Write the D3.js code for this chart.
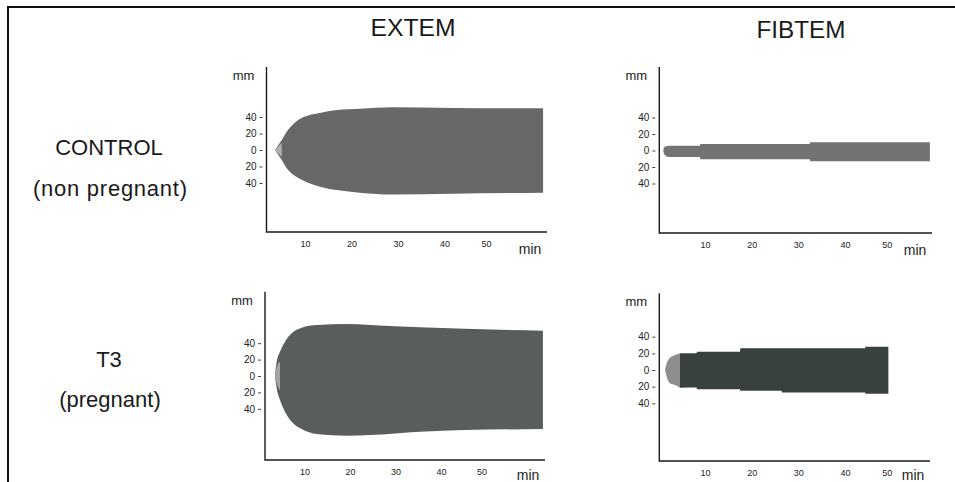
<!DOCTYPE html>
<html>
<head>
<meta charset="utf-8">
<script src="https://cdn.jsdelivr.net/npm/d3@7"></script>
<style>
  html, body { margin: 0; padding: 0; background: #fff; }
  svg { display: block; font-family: "Liberation Sans", Arial, Helvetica, sans-serif; }
</style>
</head>
<body>
<svg id="chart" width="955" height="482"></svg>
<script>
// Headings
const columns = ["EXTEM", "FIBTEM"];
const rowTitles = ["CONTROL", "T3"];
const rowSubtitles = ["(non pregnant)", "(pregnant)"];
const timeTicks = [10, 20, 30, 40, 50];          // min
const amplitudeTicks = [40, 20, 0, -20, -40];    // mm

// EXTEM, control (non pregnant): time in min, upper / lower amplitude in mm
const extemControlTime  = [3.55, 4.27, 5.0, 6.06, 7.5, 9.6, 13.2, 16.8, 21.8, 28.9, 41.8, 61.2];
const extemControlUpper = [0, 6, 12, 22, 31.5, 39.6, 45, 48.5, 50, 51.7, 51, 50.5];
const extemControlLower = [0, 6, 12, 22, 30, 37, 44.5, 48.5, 51.7, 54, 53, 51.7];

// FIBTEM, control (non pregnant)
const fibtemControlTime  = [1.07, 1.2, 1.5, 2.0, 3.0, 8.9, 9.0, 32.4, 32.6, 58.2];
const fibtemControlUpper = [0, 3, 4.8, 5.5, 5.7, 5.7, 8, 8, 10, 10];
const fibtemControlLower = [0, 3.5, 6, 7.5, 8, 8, 10.5, 10.5, 13, 13];

// EXTEM, T3 (pregnant)
const extemT3Time  = [3.5, 3.89, 4.62, 5.71, 7.18, 9.38, 12.7, 19.3, 24.4, 35.4, 62.4];
const extemT3Upper = [0, 17.5, 29.6, 41.8, 52, 58.9, 62.2, 63.4, 62.2, 59.3, 55.3];
const extemT3Lower = [0, 15, 29.3, 43.5, 55.7, 64.6, 70.7, 72.8, 72, 67.9, 64.6];

// FIBTEM, T3 (pregnant)
const fibtemT3Time  = [1.44, 1.8, 2.5, 3.6, 4.65, 8.2, 8.3, 17.5, 17.6, 26.4, 26.5, 44.3, 44.4, 49.3];
const fibtemT3Upper = [0, 8, 14.8, 18, 20, 20, 22, 22, 26, 26, 26, 26, 28, 28];
const fibtemT3Lower = [0, 8, 16, 18, 21.2, 21, 23, 23, 25, 25, 27, 27, 28.5, 28.5];

const svg = d3.select("#chart");

// Outer frame (left and top edges)
svg.append("path")
  .attr("d", "M8,482 V7 H955")
  .attr("fill", "none")
  .attr("stroke", "#111")
  .attr("stroke-width", 2);

// Column headings
const colCenters = [413, 801];
const colBaselines = [36, 38];
columns.forEach((c, i) => {
  svg.append("text")
    .attr("x", colCenters[i]).attr("y", colBaselines[i])
    .attr("text-anchor", "middle")
    .attr("font-size", 23)
    .attr("fill", "#1a1a1a")
    .attr("textLength", i === 0 ? 85 : 89)
    .attr("lengthAdjust", "spacingAndGlyphs")
    .text(c);
});

// Row headings
const rowBaselines = [[155, 196], [367, 407]];
const subtitleWidths = [154, null];
rowTitles.forEach((r, i) => {
  svg.append("text")
    .attr("x", 109).attr("y", rowBaselines[i][0])
    .attr("text-anchor", "middle").attr("font-size", 22).attr("fill", "#1a1a1a")
    .text(r);
  const sub = svg.append("text")
    .attr("x", 110).attr("y", rowBaselines[i][1])
    .attr("text-anchor", "middle").attr("font-size", 22).attr("fill", "#1a1a1a")
    .text(rowSubtitles[i]);
  if (subtitleWidths[i]) sub.attr("textLength", subtitleWidths[i]).attr("lengthAdjust", "spacing");
});

// Panel layout and mark styling
const panels = [
  { time: extemControlTime, upper: extemControlUpper, lower: extemControlLower, tipEnd: 2, tipScale: 0.7,
    fill: "#676967", tipFill: "#b0b0b0",
    axisX: 266.5, top: 67, base: 232, right: 547, zero: 150, pxPerMm: 0.825, t0X: 258.5, pxPerMin: 4.65 },
  { time: fibtemControlTime, upper: fibtemControlUpper, lower: fibtemControlLower, tipEnd: 0, tipScale: 1,
    fill: "#727472", tipFill: "#8a8a8a",
    axisX: 659.3, top: 67, base: 233, right: 932, zero: 150.5, pxPerMm: 0.825, t0X: 658.3, pxPerMin: 4.667 },
  { time: extemT3Time, upper: extemT3Upper, lower: extemT3Lower, tipEnd: 2, tipScale: 0.6,
    fill: "#5a5e5b", tipFill: "#a4a4a4",
    axisX: 265, top: 291.7, base: 460, right: 545, zero: 376, pxPerMm: 0.82, t0X: 259, pxPerMin: 4.55 },
  { time: fibtemT3Time, upper: fibtemT3Upper, lower: fibtemT3Lower, tipEnd: 4, tipScale: 1,
    fill: "#38413c", tipFill: "#8e8e8e",
    axisX: 659.3, top: 293.3, base: 461, right: 930, zero: 370, pxPerMm: 0.833, t0X: 658.3, pxPerMin: 4.667 }
];

panels.forEach(p => {
  const g = svg.append("g");
  const x = d3.scaleLinear().domain([0, 60]).range([p.t0X, p.t0X + 60 * p.pxPerMin]);
  const y = d3.scaleLinear().domain([-40, 40]).range([p.zero + 40 * p.pxPerMm, p.zero - 40 * p.pxPerMm]);

  const pts = p.time.map((t, i) => ({ t, up: p.upper[i], lo: p.lower[i] }));
  const area = (k) => d3.area()
    .x(d => x(d.t))
    .y0(d => y(-d.lo * k))
    .y1(d => y(d.up * k))
    .curve(d3.curveMonotoneX);

  // clot body: inset tips sit on top of the full outline, adjacent tips only precede it
  const inset = p.tipScale < 1;
  g.append("path")
    .datum(inset ? pts : pts.slice(p.tipEnd))
    .attr("d", area(1))
    .attr("fill", p.fill);
  // initial (clotting-time) tip
  if (p.tipEnd > 0) {
    g.append("path")
      .datum(pts.slice(0, p.tipEnd + 1))
      .attr("d", area(p.tipScale))
      .attr("fill", p.tipFill);
  }

  // axis lines
  g.append("path")
    .attr("d", `M${p.axisX},${p.top} V${p.base} H${p.right}`)
    .attr("fill", "none")
    .attr("stroke", "#1a1a1a")
    .attr("stroke-width", 1.4);

  // amplitude axis
  const yAxis = d3.axisLeft(y)
    .tickValues(amplitudeTicks)
    .tickFormat(d => Math.abs(d))
    .tickSize(3)
    .tickPadding(3);
  const ya = g.append("g")
    .attr("transform", `translate(${p.axisX - 4},0)`)
    .call(yAxis);
  ya.select(".domain").remove();
  ya.selectAll(".tick line").attr("stroke", "#444");
  ya.selectAll(".tick text").attr("font-size", 10).attr("fill", "#222")
    .attr("font-family", "Liberation Sans, Arial, sans-serif");

  // time axis
  const xAxis = d3.axisBottom(x)
    .tickValues(timeTicks)
    .tickSize(0)
    .tickPadding(9);
  const xa = g.append("g")
    .attr("transform", `translate(0,${p.base})`)
    .call(xAxis);
  xa.select(".domain").remove();
  xa.selectAll(".tick text").attr("font-size", 9).attr("fill", "#222")
    .attr("font-family", "Liberation Sans, Arial, sans-serif");
  xa.selectAll(".tick").filter(d => d === 50).select("text").attr("dx", -5);

  // unit labels
  g.append("text")
    .attr("x", p.axisX - 23).attr("y", p.top + 13)
    .attr("text-anchor", "middle").attr("font-size", 13).attr("fill", "#222")
    .text("mm");
  g.append("text")
    .attr("x", p.right - 17).attr("y", Math.min(p.base + 22, 480))
    .attr("text-anchor", "middle").attr("font-size", 14).attr("fill", "#222")
    .text("min");
});
</script>
</body>
</html>
